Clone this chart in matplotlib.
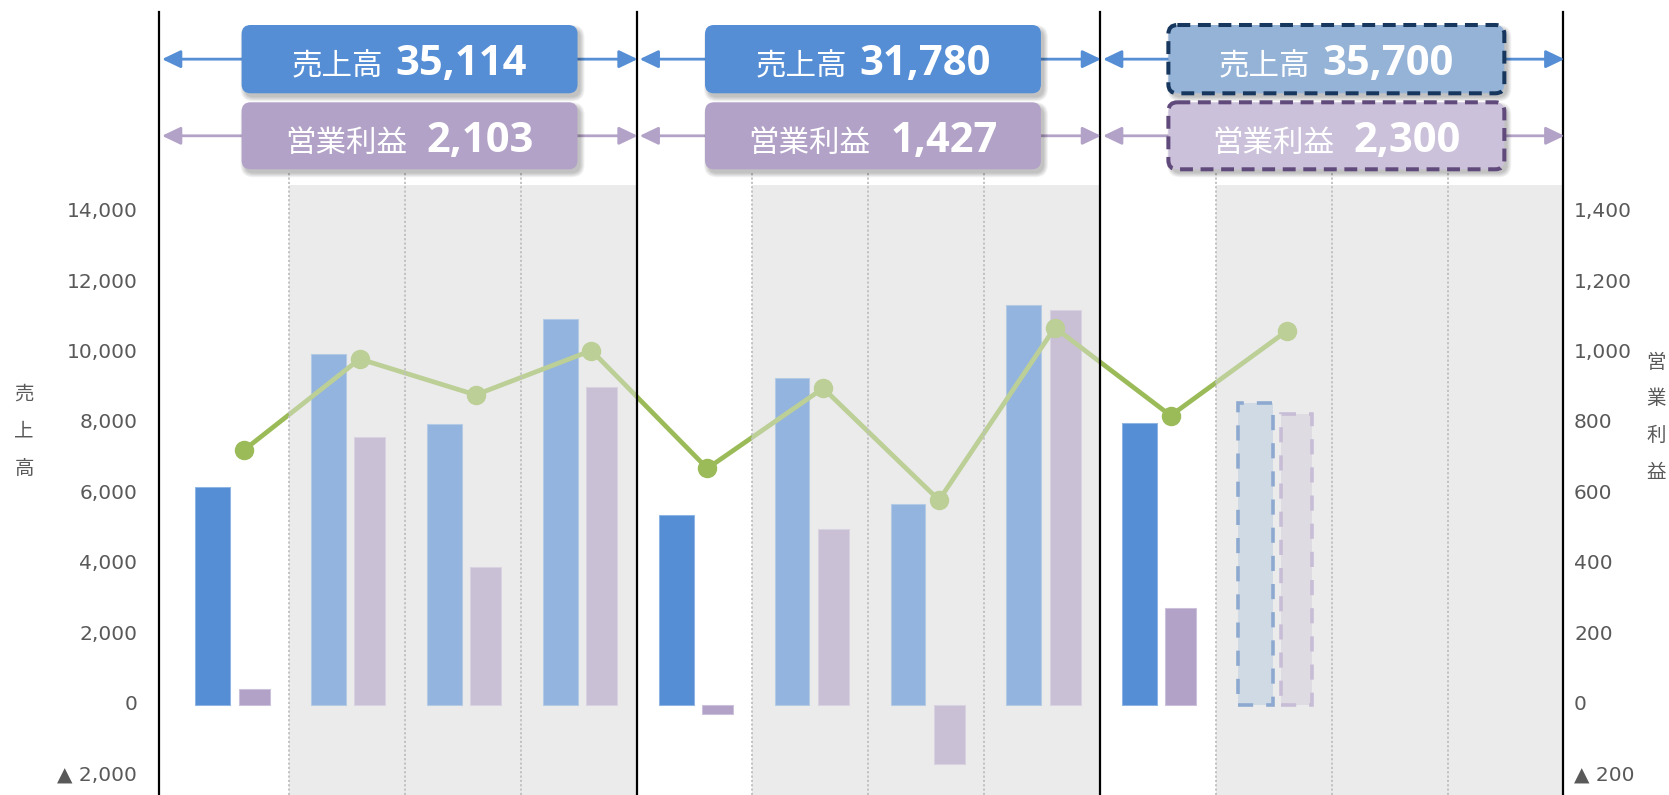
import matplotlib
matplotlib.use("Agg")
import matplotlib.pyplot as plt
from matplotlib.patches import FancyBboxPatch, FancyArrowPatch
from matplotlib.transforms import ScaledTranslation
import numpy as np

plt.rcParams['font.family'] = ['DejaVu Sans', 'Noto Sans CJK JP']

# ---------------- data ----------------
sales = [6180, 9975, 7990, 10969, 5405, 9288, 5717, 11370, 8003]      # 売上高 (left axis)
profit = [46, 762, 393, 902, -27, 500, -168, 1122, 275]              # 営業利益 (right axis)
sales_fc = [8590]                                                    # forecast quarter
profit_fc = [827]
line_vals = [724, 983, 881, 1007, 672, 900, 582, 1072, 822, 1062]    # green line (right axis)
year_sales = ["35,114", "31,780", "35,700"]
year_profit = ["2,103", "1,427", "2,300"]
year_forecast = [False, False, True]
sales_label = "売上高"
profit_label = "営業利益"
left_ticks = [-2000, 0, 2000, 4000, 6000, 8000, 10000, 12000, 14000]
left_labels = ["▲ 2,000", "0", "2,000", "4,000", "6,000", "8,000", "10,000", "12,000", "14,000"]
right_ticks = [-200, 0, 200, 400, 600, 800, 1000, 1200, 1400]
right_labels = ["▲ 200", "0", "200", "400", "600", "800", "1,000", "1,200", "1,400"]

# ---------------- style ----------------
W, H = 1669, 795
BLUE = '#558ED5'
PURPLE = '#B3A2C7'
GREEN = '#9BBB59'
GRAY_BG = '#EBEBEB'
TXT = '#595959'

fig = plt.figure(figsize=(W / 100, H / 100), dpi=100)
ax = fig.add_axes([159 / W, 0, (1564 - 159) / W, 1])
ax2 = ax.twinx()
ax.set_xlim(-0.623, 11.505)
ax.set_ylim(-2557, 20028)
ax2.set_ylim(-255.7, 2002.8)

n_act = len(sales)
x_act = np.arange(n_act)
x_fc = np.arange(n_act, n_act + len(sales_fc))
x_line = np.arange(len(line_vals))
n_groups = len(year_sales)

shade_top = 1 - 185 / H
grid_top = 1 - 172 / H
sep_top = 1 - 12 / H

# gray background for quarters 2-4 of each year
for g in range(n_groups):
    ax.axvspan(4 * g + 0.5, 4 * g + 3.5, ymin=0, ymax=shade_top, color=GRAY_BG, lw=0, zorder=0)

# bars
ax.bar(x_act - 0.158, sales, width=0.30, color=BLUE, edgecolor='#8DB4E2', lw=0.75, zorder=2)
ax.bar(x_fc - 0.158, sales_fc, width=0.30, color=(187/255, 206/255, 226/255),
       edgecolor=(76/255, 123/255, 190/255), lw=2.6, linestyle=(0, (4.2, 3.6)), zorder=2)
ax2.bar(x_act + 0.198, profit, width=0.267, color=PURPLE, edgecolor='#CCC1DA', lw=0.75, zorder=2)
ax2.bar(x_fc + 0.198, profit_fc, width=0.267, color=(214/255, 208/255, 221/255),
        edgecolor=(175/255, 157/255, 200/255), lw=2.6, linestyle=(0, (4.2, 3.6)), zorder=2)

# line
ax2.plot(x_line + 0.11, line_vals, color=GREEN, lw=3.4, marker='o', ms=13,
         solid_capstyle='round', zorder=3)

# light overlay over past quarters
for g in range(n_groups):
    ax2.axvspan(4 * g + 0.5, 4 * g + 3.5, ymin=0, ymax=shade_top, color=GRAY_BG,
                alpha=0.42, lw=0, zorder=4)

# dotted quarter lines
for g in range(n_groups):
    for q in range(3):
        ax2.axvline(4 * g + q + 0.5, ymin=0, ymax=grid_top, color='#BFBFBF', lw=1.3,
                    linestyle=(0, (1.2, 1.2)), zorder=6)

# year separators
xl = ax.get_xlim()
for xv in [xl[0]] + [4 * g + 3.5 for g in range(n_groups)]:
    ax2.axvline(xv, ymin=0, ymax=sep_top, color='black', lw=1.6, zorder=7, clip_on=False)

for a in (ax, ax2):
    for s in a.spines.values():
        s.set_visible(False)
    a.set_xticks([])
ax.set_yticks(left_ticks, left_labels)
ax2.set_yticks(right_ticks, right_labels)
ax.tick_params(axis='y', length=0, pad=15.6, labelsize=14.5, labelcolor=TXT)
ax2.tick_params(axis='y', length=0, pad=7.2, labelsize=14.5, labelcolor=TXT)
lift = ScaledTranslation(0, 2.5 / 100, fig.dpi_scale_trans)
for lab in ax.get_yticklabels() + ax2.get_yticklabels():
    lab.set_transform(lab.get_transform() + lift)

# axis titles (vertical stacked characters)
for i, ch in enumerate(sales_label):
    fig.text(24 / W, 1 - (394 + 37.5 * i) / H, ch, ha='center', va='center', fontsize=14,
             color=TXT, family='Noto Sans CJK JP')
for i, ch in enumerate(profit_label):
    fig.text(1656 / W, 1 - (362 + 36.7 * i) / H, ch, ha='center', va='center', fontsize=14,
             color=TXT, family='Noto Sans CJK JP')

# ---------------- top annotation boxes ----------------
axo = fig.add_axes([0, 0, 1, 1])
axo.set_zorder(10)
axo.set_xlim(0, W)
axo.set_ylim(H, 0)
axo.axis('off')
axo.patch.set_visible(False)


def px(xv):
    return ax.transData.transform((xv, 0))[0]


fig.canvas.draw()
renderer = fig.canvas.get_renderer()

rows = [
    dict(y0=25, y1=93.3, color=BLUE, fc_color='#95B3D7', edge='#17375E', arrow=BLUE,
         label=sales_label, vals=year_sales, gap=12),
    dict(y0=102.3, y1=169.3, color=PURPLE, fc_color='#CCC1DA', edge='#604A7B', arrow=PURPLE,
         label=profit_label, vals=year_profit, gap=20),
]

for g in range(n_groups):
    gl = xl[0] if g == 0 else 4 * g - 0.5
    gr = 4 * g + 3.5
    xa, xb = px(gl) + 3, px(gr) + 1
    bx0, bx1 = px(4 * g + 0.09), px(4 * g + 2.99)
    for row in rows:
        yc = (row['y0'] + row['y1']) / 2
        arr = FancyArrowPatch((xa, yc), (xb, yc), arrowstyle='<|-|>,head_length=11.3,head_width=5.4',
                              mutation_scale=1, lw=2, color=row['arrow'], shrinkA=0, shrinkB=0,
                              zorder=1)
        axo.add_patch(arr)
        w = bx1 - bx0
        h = row['y1'] - row['y0']
        # shadow
        for k in range(5):
            sh = FancyBboxPatch((bx0 + 3 - k, row['y0'] + 4 - k), w + 2 * k, h + 2 * k,
                                boxstyle='round,pad=0,rounding_size=%g' % (9 + k),
                                fc='black', ec='none', alpha=0.05, zorder=2)
            axo.add_patch(sh)
        if year_forecast[g]:
            box = FancyBboxPatch((bx0, row['y0']), w, h, boxstyle='round,pad=0,rounding_size=9',
                                 fc=row['fc_color'], ec=row['edge'], lw=2.9,
                                 linestyle=(0, (3.2, 1.9)), zorder=3)
        else:
            box = FancyBboxPatch((bx0, row['y0']), w, h, boxstyle='round,pad=0,rounding_size=9',
                                 fc=row['color'], ec='none', zorder=3)
        axo.add_patch(box)
        yb = yc + 16
        t1 = axo.text(0, yb, row['label'], fontsize=22, family='Noto Sans CJK JP', color='white',
                      ha='left', va='baseline', zorder=4)
        t2 = axo.text(0, yb, row['vals'][g], fontsize=30, family=['Open Sans', 'DejaVu Sans'],
                      weight='bold', color='white', ha='left', va='baseline', zorder=4)
        w1 = t1.get_window_extent(renderer).width
        w2 = t2.get_window_extent(renderer).width
        cx = (bx0 + bx1) / 2
        start = cx - (w1 + row['gap'] + w2) / 2
        t1.set_x(start)
        t2.set_x(start + w1 + row['gap'])

fig.savefig('out.png', dpi=100)
